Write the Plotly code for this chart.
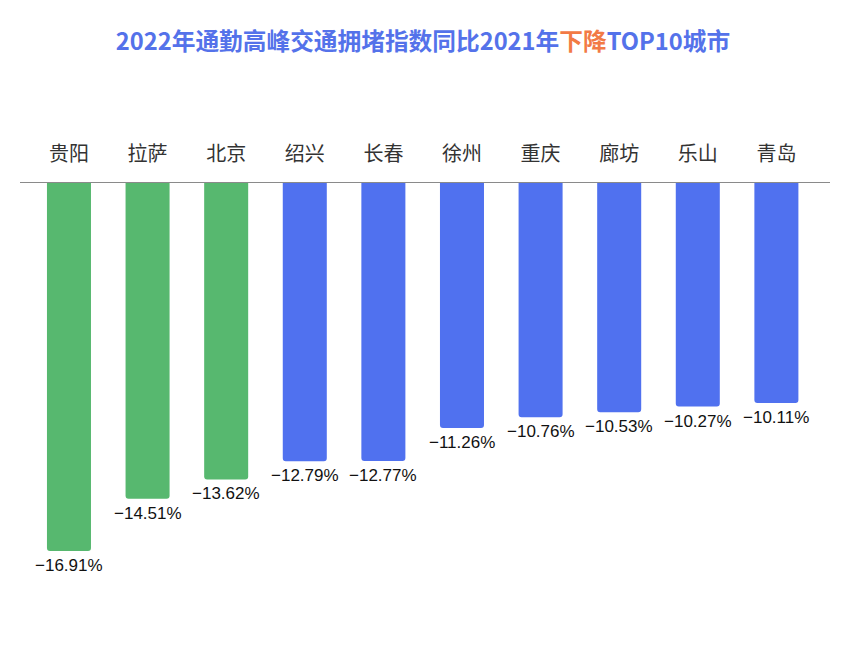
import plotly.graph_objects as go

cities = ["贵阳", "拉萨", "北京", "绍兴", "长春", "徐州", "重庆", "廊坊", "乐山", "青岛"]
values = [-16.91, -14.51, -13.62, -12.79, -12.77, -11.26, -10.76, -10.53, -10.27, -10.11]
bar_colors = ["#57B86F"] * 3 + ["#5071EF"] * 7
labels = [f"\u2212{abs(v):.2f}%" for v in values]

fig = go.Figure(go.Bar(
    x=cities, y=values,
    marker=dict(color=bar_colors, line=dict(width=0), cornerradius=3),
    width=0.56,
    hoverinfo="skip",
))

for c, v, t in zip(cities, values, labels):
    fig.add_annotation(
        x=c, y=v, text=t, showarrow=False, yanchor="top", yshift=-3,
        font=dict(size=17, color="#111111", family="Liberation Sans, Arial, sans-serif"),
    )

fig.update_layout(
    width=846, height=666,
    paper_bgcolor="white", plot_bgcolor="white",
    margin=dict(l=12, r=24, t=175, b=54, autoexpand=False),
    showlegend=False,
    title=dict(
        text="2022年通勤高峰交通拥堵指数同比2021年<span style='color:#F27A45'>下降</span>TOP10城市",
        x=0.4905, xanchor="center", y=0.949, yanchor="middle",
        font=dict(size=23.7, color="#5472EA", family="Noto Sans CJK SC, sans-serif", weight="bold"),
    ),
    xaxis=dict(
        side="top", showline=True, linecolor="#8a8a8a", linewidth=1,
        ticks="", showgrid=False, range=[-0.623, 9.682], automargin=False,
        tickfont=dict(size=20, color="#333333", family="Noto Sans CJK SC, sans-serif"),
        ticklabelstandoff=13,
    ),
    yaxis=dict(
        range=[-20.08, 0], showgrid=False, zeroline=False, showline=False,
        showticklabels=False, ticks="", automargin=False,
    ),
)

fig.write_html("out.html")
